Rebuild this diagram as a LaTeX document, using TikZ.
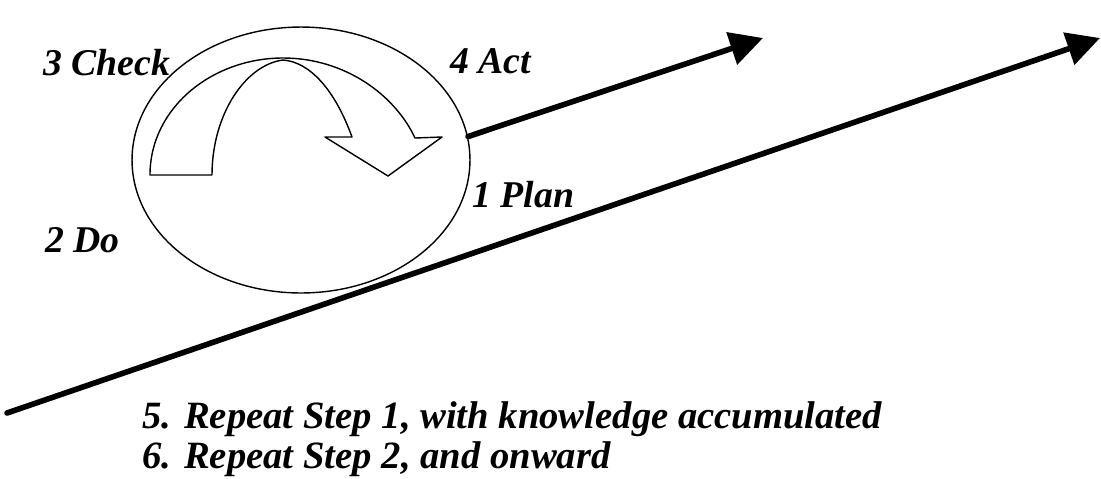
\documentclass[tikz,border=0pt]{standalone}
\usepackage{fontspec}
\setmainfont{Liberation Serif}
\usetikzlibrary{arrows.meta,shapes.geometric}

\begin{document}
\begin{tikzpicture}[x=0.02cm, y=-0.02cm, line cap=round, line join=round]
  \tikzset{
    label/.style={font=\fontsize{21.5}{24}\selectfont\bfseries\itshape, inner sep=0pt, anchor=base west},
    steptext/.style={font=\fontsize{22}{24}\selectfont\bfseries\itshape, inner sep=0pt, anchor=base west},
    ring/.style={ellipse, draw=black, line width=0.8pt, minimum width=6.76cm, minimum height=5.32cm, inner sep=0pt},
    bigarrow/.style={line width=3.2pt, -{Triangle[length=0.66cm, width=0.66cm]}, draw=black}
  }
  \useasboundingbox (0,0) rectangle (1101,478);

  % ellipse of the cycle
  \node[ring] (pdca) at (301,160) {};

  % curved arrow inside
  \draw[line width=0.8pt, fill=white] (150,175) .. controls (150,108) and (212,58) .. (283,58)
    .. controls (345,58) and (395,95) .. (415,138)
    -- (442,137) -- (388,176) -- (325,137) -- (352,137)
    .. controls (335,90) and (310,62) .. (283,60)
    .. controls (245,65) and (212,115) .. (212,175) -- cycle;

  % arrows
  \coordinate (actend) at (763,38);
  \coordinate (linestart) at (7,413);
  \coordinate (lineend) at (1100,38);
  \draw[bigarrow] (pdca.8) -- (actend);
  \draw[bigarrow] (linestart) -- (lineend);

  % labels
  \node[label] (check) at (43,75) {3 Check};
  \node[label] (act) at (450,73) {4 Act};
  \node[label] (plan) at (472,207) {1 Plan};
  \node[label] (do) at (45,252) {2 Do};

  \node[steptext] (repeat1) at (142,428) {5. Repeat Step 1, with knowledge accumulated};
  \node[steptext] (repeat2) at (142,468) {6. Repeat Step 2, and onward};
\end{tikzpicture}
\end{document}
